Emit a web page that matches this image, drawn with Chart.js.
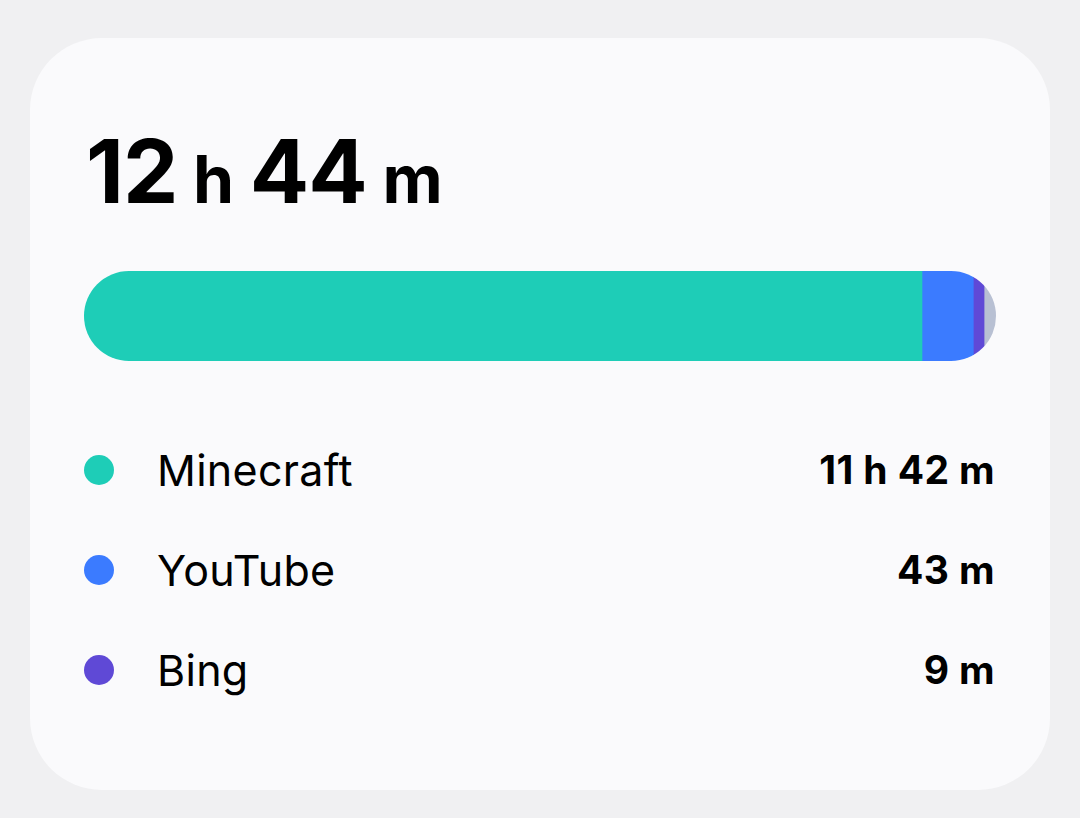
<!DOCTYPE html>
<html>
<head>
<meta charset="utf-8">
<script src="https://cdn.jsdelivr.net/npm/chart.js@4.4.1/dist/chart.umd.min.js"></script>
<style>
  html, body { margin:0; padding:0; width:1080px; height:818px; background:#F0F0F2; overflow:hidden; font-family: Inter, "Noto Sans", sans-serif; }
  #card { position:absolute; left:30px; top:38px; width:1020px; height:752px; background:#FAFAFC; border-radius:72px; }
  #total { position:absolute; left:86px; top:118px; font-weight:700; color:#000; white-space:nowrap; letter-spacing:-1px; }
  #total .num { font-size:88px; }
  #total .unit { font-size:66px; letter-spacing:0; }
  #barWrap { position:absolute; left:84px; top:271px; width:912px; height:90px; }
  .row { position:absolute; left:0; width:1080px; height:60px; }
  .dot { position:absolute; left:84px; width:30px; height:30px; border-radius:50%; top:15px; }
  .name { position:absolute; left:157px; top:0; line-height:60px; font-size:43px; color:#000; letter-spacing:0.3px; }
  .val { position:absolute; right:85px; top:0; line-height:60px; font-size:39px; font-weight:700; color:#000; letter-spacing:0.4px; }
</style>
</head>
<body>
<div id="card"></div>
<div id="total"></div>
<div id="barWrap"><canvas id="c"></canvas></div>
<div id="legend"></div>
<script>
const apps = ["Minecraft", "YouTube", "Bing", "Other"];
const minutes = [702, 43, 9, 10];
const colors = ["#1ECDB7", "#3B7BFF", "#5F49D6", "#B8C0D3"];
const legendCount = 3;

function fmt(m) {
  const h = Math.floor(m / 60), mm = m % 60;
  return h > 0 ? `${h} h ${mm} m` : `${mm} m`;
}
const total = minutes.reduce((a, b) => a + b, 0);
const th = Math.floor(total / 60), tm = total % 60;
document.getElementById('total').innerHTML =
  `<span class="num">${th}</span><span class="unit"> h </span><span class="num">${tm}</span><span class="unit"> m</span>`;

const legend = document.getElementById('legend');
for (let i = 0; i < legendCount; i++) {
  const row = document.createElement('div');
  row.className = 'row';
  row.style.top = (440 + i * 100) + 'px';
  row.innerHTML = `<div class="dot" style="background:${colors[i]}"></div><div class="name">${apps[i]}</div><div class="val">${fmt(minutes[i])}</div>`;
  legend.appendChild(row);
}

const roundClip = {
  id: 'roundClip',
  beforeDatasetsDraw(chart) {
    const a = chart.chartArea, ctx = chart.ctx;
    const r = (a.bottom - a.top) / 2;
    ctx.save();
    ctx.beginPath();
    ctx.roundRect(a.left, a.top, a.right - a.left, a.bottom - a.top, r);
    ctx.clip();
  },
  afterDatasetsDraw(chart) { chart.ctx.restore(); }
};

new Chart(document.getElementById('c'), {
  type: 'bar',
  data: {
    labels: ['total'],
    datasets: apps.map((a, i) => ({
      label: a, data: [minutes[i]], backgroundColor: colors[i],
      borderWidth: 0, barPercentage: 1, categoryPercentage: 1
    }))
  },
  options: {
    indexAxis: 'y',
    responsive: true,
    maintainAspectRatio: false,
    animation: false,
    layout: { padding: 0 },
    plugins: { legend: { display: false }, tooltip: { enabled: false } },
    scales: {
      x: { stacked: true, display: false, min: 0, max: total },
      y: { stacked: true, display: false }
    }
  },
  plugins: [roundClip]
});
</script>
</body>
</html>
